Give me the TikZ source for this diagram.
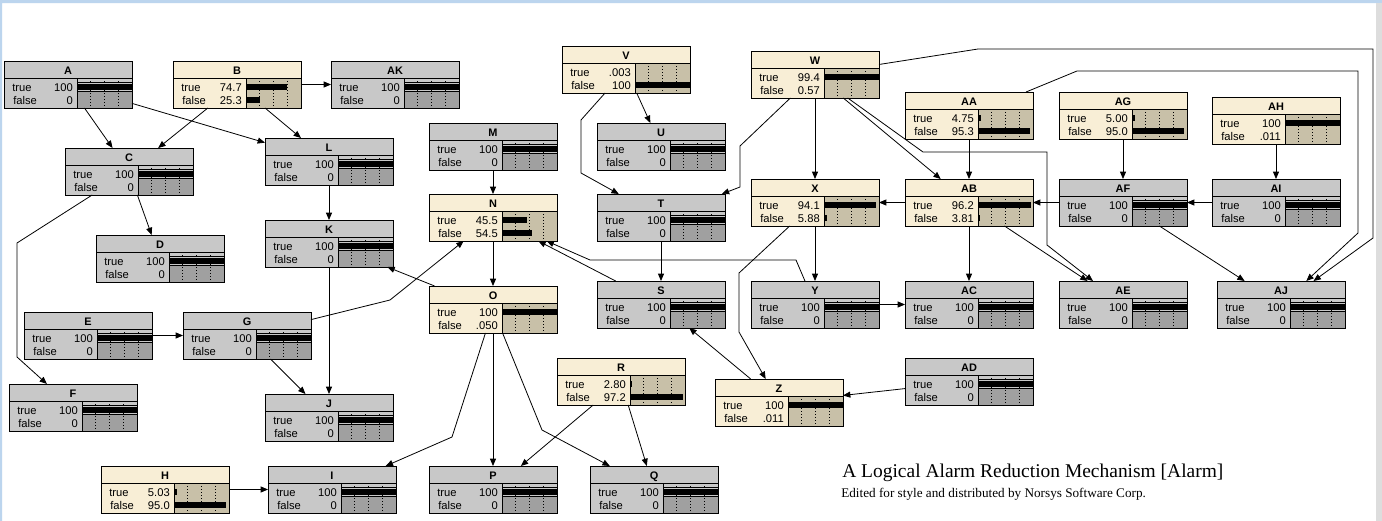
\documentclass[tikz,border=0pt]{standalone}
\usepackage{fontspec}
\setmainfont{Liberation Serif}
\setsansfont{Liberation Sans}
\usetikzlibrary{arrows.meta}
\definecolor{ntgray}{HTML}{C8C8C8}
\definecolor{ntgrayD}{HTML}{A0A0A0}
\definecolor{ntbeige}{HTML}{F8EED6}
\definecolor{ntbeigeD}{HTML}{C8C0A8}
\definecolor{ntframeB}{HTML}{BCD5EE}
\definecolor{ntframeG}{HTML}{DDDDDD}

% belief node: name, x, y, label, true, false, bar true, bar false
\newcommand{\belnode}[8]{%
  \begin{scope}[shift={(#2,#3)}]
    \node[bbox] (#1) at (64,23.5) {};
    \fill[ntbeigeD] (73,17) rectangle (128,47);
    \foreach \t in {1,2,3} \draw[tick] (73+13.75*\t,17) -- (73+13.75*\t,47);
    \fill (73,22.5) rectangle ++(0.55*#7,6.5);
    \fill (73,35.5) rectangle ++(0.55*#8,6.5);
    \draw[frame] (0,17) -- (128,17) (73,17) -- (73,47) (0,0) rectangle (128,47);
    \node[ttl] at (64,13.5) {#4};
    \node[lbl, anchor=base west] at (8,30) {true};
    \node[lbl, anchor=base west] at (9,43) {false};
    \node[lbl, anchor=base east] at (69,30) {#5};
    \node[lbl, anchor=base east] at (69,43) {#6};
  \end{scope}}

% finding node: name, x, y, label (true 100, false 0)
\newcommand{\obsnode}[4]{%
  \begin{scope}[shift={(#2,#3)}]
    \node[obox] (#1) at (64,23.5) {};
    \fill[ntgrayD] (73,31) rectangle (128,47);
    \foreach \t in {1,2,3} \draw[tick] (73+13.75*\t,17) -- (73+13.75*\t,47);
    \draw[line width=0.5pt] (73,21) -- (128,21) (73,30.5) -- (128,30.5);
    \fill (73,22.5) rectangle (128,29);
    \draw[frame] (0,17) -- (128,17) (73,17) -- (73,47) (0,0) rectangle (128,47);
    \node[ttl] at (64,13.5) {#4};
    \node[lbl, anchor=base west] at (8,30) {true};
    \node[lbl, anchor=base west] at (9,43) {false};
    \node[lbl, anchor=base east] at (69,30) {100};
    \node[lbl, anchor=base east] at (69,43) {0};
  \end{scope}}

\begin{document}
\begin{tikzpicture}[
      x=0.75pt, y=-0.75pt,
      font=\sffamily\fontsize{8.4}{10}\selectfont,
      bbox/.style={fill=ntbeige, inner sep=0pt, outer sep=0pt,
                   minimum width=96pt, minimum height=35.25pt},
      obox/.style={bbox, fill=ntgray},
      frame/.style={line width=0.75pt},
      tick/.style={line width=0.6pt, dash pattern=on 0.75pt off 1.5pt},
      ttl/.style={inner sep=0pt, anchor=base, font=\sffamily\bfseries\fontsize{8.2}{10}\selectfont},
      lbl/.style={inner sep=0pt},
      arr/.style={-{Triangle[length=5.5pt,width=4.5pt]}, line width=0.6pt}
    ]
    \useasboundingbox (0,0) rectangle (1382,521);
    \fill[white] (0,0) rectangle (1382,521);
    \fill[ntframeB] (0,0) rectangle (1382,3) (0,0) rectangle (2,521);
    \fill[ntframeG] (1376,3) rectangle (1382,521);

    % top rows
    \obsnode{A}{4}{61}{A}
    \belnode{B}{173}{61}{B}{74.7}{25.3}{74.7}{25.3}
    \obsnode{AK}{331}{61}{AK}
    \obsnode{C}{65}{148}{C}
    \obsnode{L}{265}{138}{L}
    \obsnode{M}{429}{123}{M}
    \belnode{V}{562}{46}{V}{.003}{100}{0.003}{100}
    \obsnode{U}{597}{123}{U}
    \belnode{W}{751}{51}{W}{99.4}{0.57}{99.4}{0.57}
    \belnode{AA}{905}{92}{AA}{4.75}{95.3}{4.75}{95.3}
    \belnode{AG}{1059}{92}{AG}{5.00}{95.0}{5.00}{95.0}
    \belnode{AH}{1212}{97}{AH}{100}{.011}{100}{0.011}
    \belnode{N}{429}{194}{N}{45.5}{54.5}{45.5}{54.5}
    \obsnode{T}{597}{194}{T}
    \belnode{X}{751}{179}{X}{94.1}{5.88}{94.1}{5.88}
    \belnode{AB}{905}{179}{AB}{96.2}{3.81}{96.2}{3.81}
    \obsnode{AF}{1059}{179}{AF}
    \obsnode{AI}{1212}{179}{AI}
    % middle rows
    \obsnode{D}{96}{235}{D}
    \obsnode{K}{265}{220}{K}
    \obsnode{E}{24}{312}{E}
    \obsnode{G}{183}{312}{G}
    \belnode{O}{429}{286}{O}{100}{.050}{100}{0.05}
    \obsnode{S}{597}{281}{S}
    \obsnode{Y}{751}{281}{Y}
    \obsnode{AC}{905}{281}{AC}
    \obsnode{AE}{1059}{281}{AE}
    \obsnode{AJ}{1217}{281}{AJ}
    % bottom rows
    \obsnode{F}{9}{384}{F}
    \obsnode{J}{265}{394}{J}
    \belnode{R}{557}{358}{R}{2.80}{97.2}{2.80}{97.2}
    \belnode{Z}{715}{379}{Z}{100}{.011}{100}{0.011}
    \obsnode{AD}{905}{358}{AD}
    \belnode{H}{101}{466}{H}{5.03}{95.0}{5.03}{95.0}
    \obsnode{I}{268}{466}{I}
    \obsnode{P}{429}{466}{P}
    \obsnode{Q}{590}{466}{Q}

    % links
    \draw[arr] (A) -- (C);
    \draw[arr] (A) -- (L);
    \draw[arr] (B) -- (C);
    \draw[arr] (B) -- (L);
    \draw[arr] (B) -- (AK);
    \draw[arr] (C) -- (D);
    \draw[arr] (C) -- (17,243) -- (17,357) -- (F);
    \draw[arr] (L) -- (K);
    \draw[arr] (K) -- (J);
    \draw[arr] (E) -- (G);
    \draw[arr] (G) -- (J);
    \draw[arr] (G) -- (390,300) -- (N);
    \draw[arr] (O) -- (K);
    \draw[arr] (M) -- (N);
    \draw[arr] (N) -- (O);
    \draw[arr] (S) -- (N);
    \draw[arr] (Y) -- (796,260) -- (590,260) -- (N);
    \draw[arr] (V) -- (581,120) -- (581,173) -- (T);
    \draw[arr] (W) -- (740,146) -- (740,187) -- (T);
    \draw[arr] (V) -- (U);
    \draw[arr] (T) -- (S);
    \draw[arr] (W) -- (X);
    \draw[arr] (W) -- (AB);
    \draw[arr] (W) -- (923,152) -- (1047,152) -- (1047,245) -- (AE);
    \draw[arr] (W) -- (978,49) -- (1373,49) -- (1373,238) -- (AJ);
    \draw[arr] (AA) -- (AB);
    \draw[arr] (AA) -- (1077,71) -- (1358,71) -- (1358,233) -- (AJ);
    \draw[arr] (AG) -- (AF);
    \draw[arr] (AH) -- (AI);
    \draw[arr] (AI) -- (AF);
    \draw[arr] (AF) -- (AB);
    \draw[arr] (AB) -- (X);
    \draw[arr] (AB) -- (AC);
    \draw[arr] (AB) -- (AE);
    \draw[arr] (AF) -- (AJ);
    \draw[arr] (X) -- (Y);
    \draw[arr] (X) -- (739,273) -- (739,332) -- (Z);
    \draw[arr] (Y) -- (AC);
    \draw[arr] (Z) -- (S);
    \draw[arr] (AD) -- (Z);
    \draw[arr] (O) -- (452,437) -- (I);
    \draw[arr] (O) -- (P);
    \draw[arr] (O) -- (542,430) -- (Q);
    \draw[arr] (R) -- (P);
    \draw[arr] (R) -- (Q);
    \draw[arr] (H) -- (I);

    % caption
    \node[lbl, anchor=base west, font=\rmfamily\fontsize{14.6}{16}\selectfont] (cap) at (842,477.7)
      {A Logical Alarm Reduction Mechanism [Alarm]};
    \node[lbl, anchor=base west, font=\rmfamily\fontsize{9.9}{11}\selectfont] (sub) at (841,497.3)
      {Edited for style and distributed by Norsys Software Corp.};
  \end{tikzpicture}
\end{document}
